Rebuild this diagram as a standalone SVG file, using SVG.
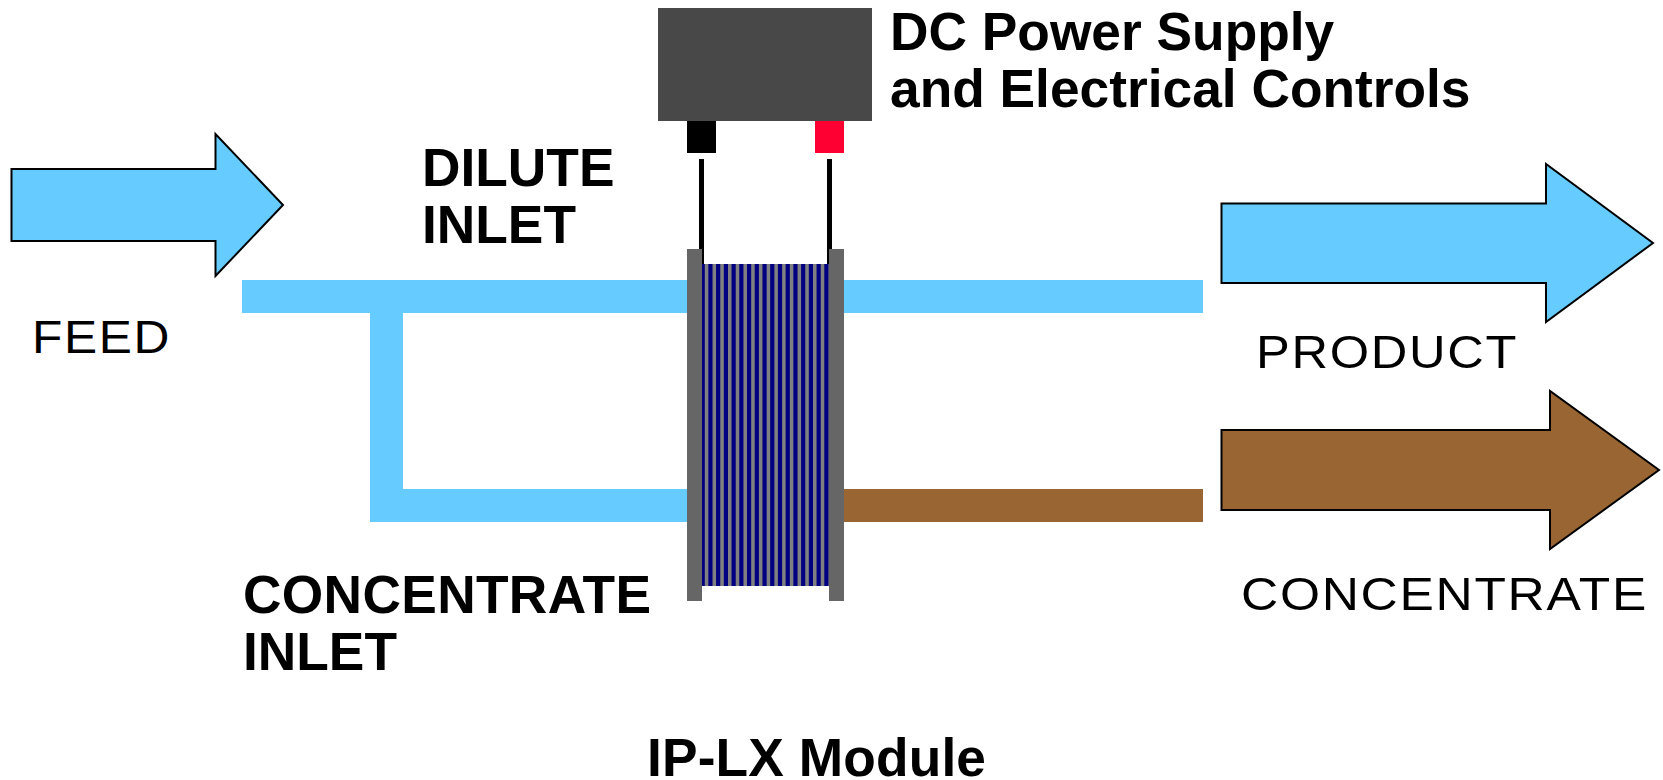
<svg xmlns="http://www.w3.org/2000/svg" width="1663" height="780" viewBox="0 0 1663 780">
<style>
.b{font-family:"Liberation Sans",Arial,sans-serif;font-weight:700;font-size:53.3px;fill:#000}
.r{font-family:"Liberation Sans",Arial,sans-serif;font-size:46px;letter-spacing:1.5px;fill:#000}
.arrow{stroke:#000;stroke-width:2;stroke-linejoin:miter}
.w{fill:#6cf}.br{fill:#963}.g{fill:#666}
</style>
<rect width="1663" height="780" fill="#fff"/>
<g id="connectors">
<rect class="w" x="242" y="280" width="461" height="33"/>
<rect class="w" x="829" y="280" width="374" height="33"/>
<rect class="w" x="370" y="313" width="33" height="176"/>
<rect class="w" x="370" y="489" width="333" height="33"/>
<rect class="br" x="829" y="489" width="374" height="33"/>
<rect x="699" y="159" width="5" height="105" fill="#000"/>
<rect x="827" y="159" width="5" height="105" fill="#000"/>
</g>
<g id="power-supply">
<rect x="658" y="8" width="214" height="113" fill="#484848"/>
<rect x="687" y="121" width="29" height="32" fill="#000"/>
<rect x="815" y="121" width="29" height="32" fill="#f03"/>
</g>
<g id="module">
<rect x="702" y="264" width="127" height="322" fill="#808080"/>
<line x1="702" y1="425" x2="829" y2="425" stroke="#000080" stroke-width="322" stroke-dasharray="4.200 3.530" stroke-dashoffset="1.400"/>
<rect class="g" x="687" y="249" width="15" height="352"/>
<rect class="g" x="829" y="249" width="15" height="352"/>
</g>
<g id="feed-arrow"><polygon class="arrow w" points="11.500,169 215.500,169 215.500,134 283,205 215.500,276 215.500,241 11.500,241"/></g>
<g id="product-arrow"><polygon class="arrow w" points="1221.500,203.500 1546,203.500 1546,164 1653,243 1546,322 1546,283 1221.500,283"/></g>
<g id="concentrate-arrow"><polygon class="arrow br" points="1221.500,430 1550,430 1550,391 1659,470 1550,549 1550,510 1221.500,510"/></g>
<g id="labels">
<text class="b" x="890" y="50">DC Power Supply</text>
<text class="b" x="890" y="107">and Electrical Controls</text>
<text class="b" x="422" y="186">DILUTE</text>
<text class="b" x="422" y="243">INLET</text>
<text class="b" x="243" y="613" textLength="408">CONCENTRATE</text>
<text class="b" x="243" y="670">INLET</text>
<text class="b" x="647" y="776" textLength="339">IP-LX Module</text>
<text class="r" x="32" y="353" textLength="139" lengthAdjust="spacingAndGlyphs">FEED</text>
<text class="r" x="1256" y="368" textLength="262" lengthAdjust="spacingAndGlyphs">PRODUCT</text>
<text class="r" x="1241" y="610" textLength="407" lengthAdjust="spacingAndGlyphs">CONCENTRATE</text>
</g>
</svg>
